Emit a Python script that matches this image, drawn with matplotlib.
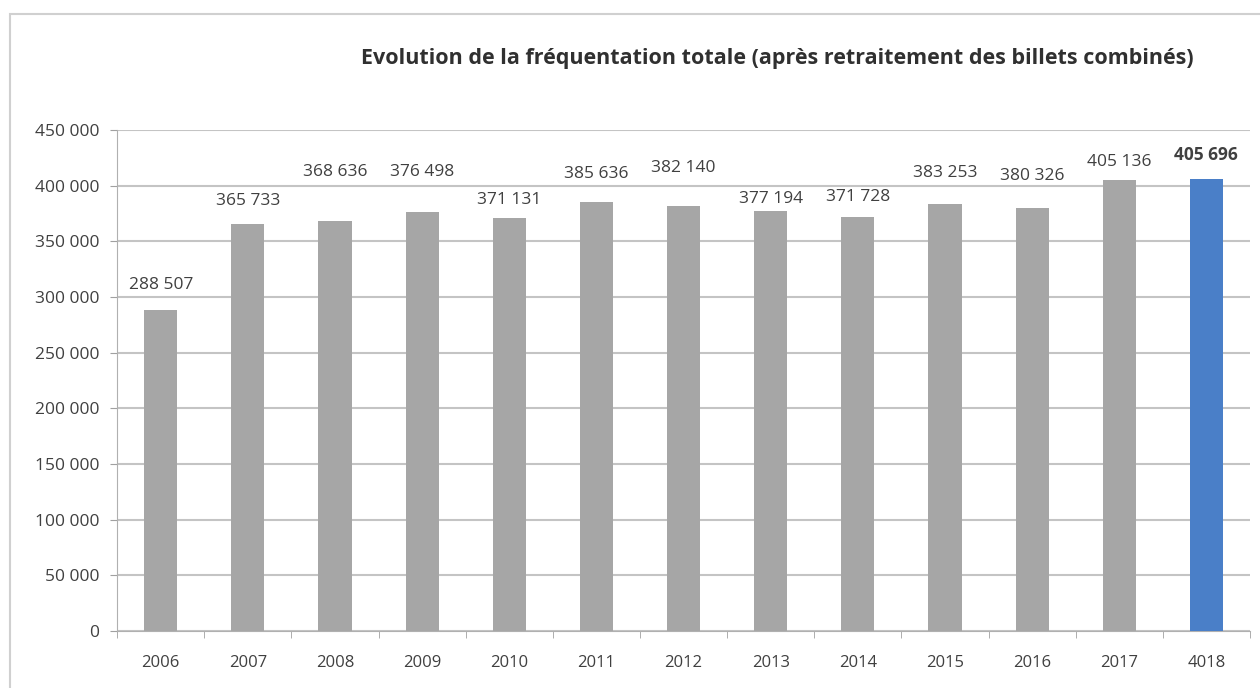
import matplotlib
matplotlib.use('Agg')
import matplotlib.pyplot as plt
from matplotlib.patches import Rectangle
import numpy as np

years = ['2006', '2007', '2008', '2009', '2010', '2011', '2012',
         '2013', '2014', '2015', '2016', '2017', '4018']
visitors = [288507, 365733, 368636, 376498, 371131, 385636, 382140,
            377194, 371728, 383253, 380326, 405136, 405696]
# vertical offset of each data label above its bar, in points
label_offsets = [12, 11, 29, 23, 7, 14, 21, 3, 9, 17, 17, 7, 11]


def fmt(v):
    return '{:,}'.format(int(v)).replace(',', ' ')


plt.rcParams['font.family'] = ['Open Sans', 'DejaVu Sans']

fig = plt.figure(figsize=(12.6, 6.88), dpi=100)
fig.patches.append(Rectangle((0.008, -0.01), 1.0, 0.99, transform=fig.transFigure,
                             fill=False, edgecolor='#d0d0d0', linewidth=1.5))
ax = fig.add_axes([0.093, 0.083, 0.899, 0.728])

x = np.arange(len(years))
colors = ['#a6a6a6'] * (len(years) - 1) + ['#4a7fc8']
bars = ax.bar(x, visitors, width=0.38, color=colors, zorder=3)

for i, (b, v) in enumerate(zip(bars, visitors)):
    weight = 'bold' if i == len(years) - 1 else 'normal'
    ax.annotate(fmt(v), (b.get_x() + b.get_width() / 2, v),
                xytext=(0, label_offsets[i]), textcoords='offset points',
                ha='center', va='bottom', fontsize=12.5, color='#404040',
                fontweight=weight)

ax.set_ylim(0, 450000)
ax.set_xlim(-0.5, len(years) - 0.5)
ax.set_yticks(np.arange(0, 450001, 50000))
ax.set_yticklabels([fmt(v) for v in np.arange(0, 450001, 50000)])
ax.set_xticks(x)
ax.set_xticklabels(years)
ax.set_xticks(np.arange(-0.5, len(years), 1), minor=True)
ax.tick_params(axis='x', which='major', length=0, pad=17, labelsize=12, labelcolor='#404040')
ax.tick_params(axis='x', which='minor', length=5, color='#a0a0a0')
ax.tick_params(axis='y', length=5, color='#a0a0a0', labelsize=12.5, labelcolor='#404040', pad=8)

ax.grid(axis='y', color='#c4c4c4', linewidth=1.5, zorder=0)
for s in ['top', 'right']:
    ax.spines[s].set_visible(False)
ax.spines['left'].set_color('#b0b0b0')
ax.spines['bottom'].set_color('#b0b0b0')

fig.text(0.617, 0.915, 'Evolution de la fréquentation totale (après retraitement des billets combinés)',
         ha='center', va='center', fontsize=15.5, fontweight='bold', color='#303030')

fig.savefig('out.png', dpi=100)
